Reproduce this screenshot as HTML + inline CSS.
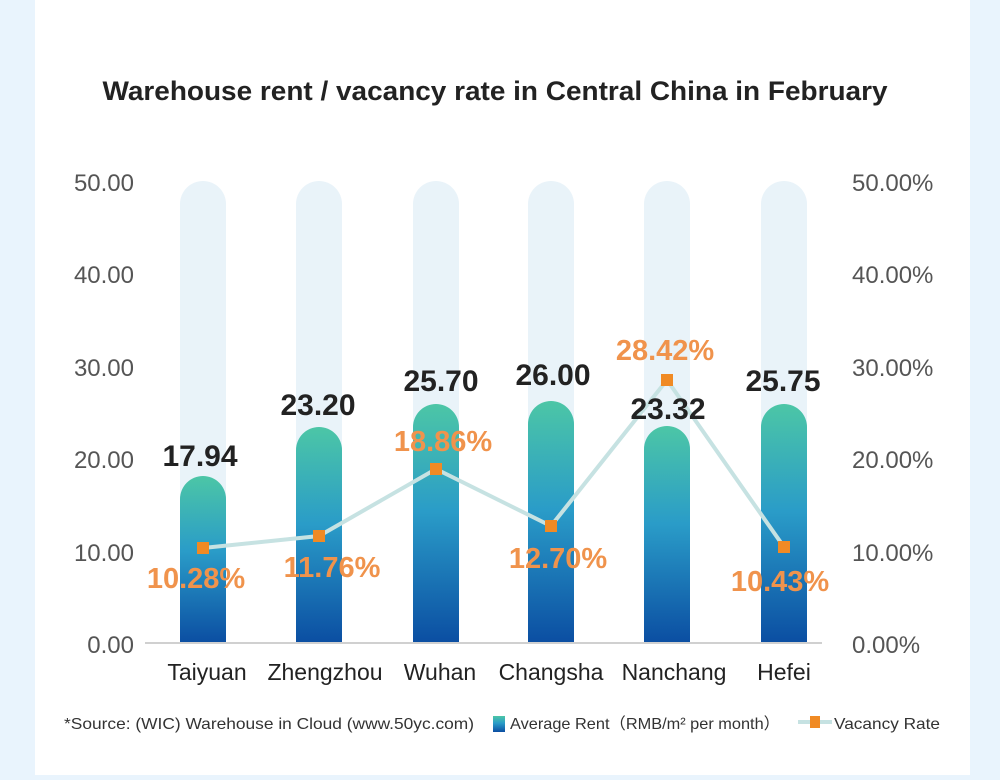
<!DOCTYPE html>
<html><head><meta charset="utf-8"><style>
body{margin:0;background:#e9f4fd;}
</style></head><body>
<svg width="1000" height="775" xmlns="http://www.w3.org/2000/svg" font-family="Liberation Sans, sans-serif">
<defs>
<linearGradient id="g" x1="0" y1="0" x2="0" y2="1">
<stop offset="0" stop-color="#4cc6a6"/><stop offset="0.45" stop-color="#2a9cc8"/><stop offset="1" stop-color="#0b4ea2"/>
</linearGradient>
</defs>
<rect x="0" y="0" width="1000" height="775" fill="#e9f4fd"/>
<rect x="35" y="0" width="935" height="775" fill="#fff"/>
<text x="495" y="100" text-anchor="middle" font-size="27" font-weight="bold" fill="#222" textLength="785" lengthAdjust="spacingAndGlyphs">Warehouse rent / vacancy rate in Central China in February</text>
<g font-size="24" fill="#555" text-anchor="end">
<text x="134" y="191">50.00</text><text x="134" y="283">40.00</text><text x="134" y="376">30.00</text><text x="134" y="468">20.00</text><text x="134" y="561">10.00</text><text x="134" y="653">0.00</text>
</g>
<g font-size="24" fill="#555">
<text x="852" y="191">50.00%</text><text x="852" y="283">40.00%</text><text x="852" y="376">30.00%</text><text x="852" y="468">20.00%</text><text x="852" y="561">10.00%</text><text x="852" y="653">0.00%</text>
</g>
<g fill="#e9f3f9">
<path d="M180 643V204a23 23 0 0 1 46 0V643z"/>
<path d="M296 643V204a23 23 0 0 1 46 0V643z"/>
<path d="M413 643V204a23 23 0 0 1 46 0V643z"/>
<path d="M528 643V204a23 23 0 0 1 46 0V643z"/>
<path d="M644 643V204a23 23 0 0 1 46 0V643z"/>
<path d="M761 643V204a23 23 0 0 1 46 0V643z"/>
</g>
<g fill="url(#g)">
<path d="M180 643V499a23 23 0 0 1 46 0V643z"/>
<path d="M296 643V450a23 23 0 0 1 46 0V643z"/>
<path d="M413 643V427a23 23 0 0 1 46 0V643z"/>
<path d="M528 643V424a23 23 0 0 1 46 0V643z"/>
<path d="M644 643V449a23 23 0 0 1 46 0V643z"/>
<path d="M761 643V427a23 23 0 0 1 46 0V643z"/>
</g>
<line x1="145" y1="643" x2="822" y2="643" stroke="#d0d0d0" stroke-width="2"/>
<polyline points="203,548 319,536 436,469 551,526 667,380 784,547" fill="none" stroke="#c6e2e2" stroke-width="4"/>
<g fill="#f08a24">
<rect x="197" y="542" width="12" height="12"/><rect x="313" y="530" width="12" height="12"/><rect x="430" y="463" width="12" height="12"/><rect x="545" y="520" width="12" height="12"/><rect x="661" y="374" width="12" height="12"/><rect x="778" y="541" width="12" height="12"/>
</g>
<g font-size="30" font-weight="bold" fill="#222" text-anchor="middle">
<text x="200" y="466">17.94</text><text x="318" y="415">23.20</text><text x="441" y="391">25.70</text><text x="553" y="385">26.00</text><text x="668" y="419">23.32</text><text x="783" y="391">25.75</text>
</g>
<g font-size="29" font-weight="bold" fill="#f0934c" text-anchor="middle">
<text x="196" y="588">10.28%</text><text x="332" y="577">11.76%</text><text x="443" y="451">18.86%</text><text x="558" y="568">12.70%</text><text x="665" y="360">28.42%</text><text x="780" y="591">10.43%</text>
</g>
<g font-size="23" fill="#222" text-anchor="middle">
<text x="207" y="680">Taiyuan</text><text x="325" y="680">Zhengzhou</text><text x="440" y="680">Wuhan</text><text x="551" y="680">Changsha</text><text x="674" y="680">Nanchang</text><text x="784" y="680">Hefei</text>
</g>
<g font-size="16" fill="#333">
<text x="64" y="729" textLength="410" lengthAdjust="spacingAndGlyphs">*Source: (WIC) Warehouse in Cloud  (www.50yc.com)</text>
<rect x="493" y="716" width="12" height="16" fill="url(#g)"/>
<text x="510" y="729" textLength="270" lengthAdjust="spacingAndGlyphs">Average Rent（RMB/m² per month）</text>
<line x1="798" y1="722" x2="832" y2="722" stroke="#c6e2e2" stroke-width="4"/>
<rect x="810" y="716" width="10" height="12" fill="#f08a24"/>
<text x="834" y="729" textLength="106" lengthAdjust="spacingAndGlyphs">Vacancy Rate</text>
</g>
</svg>
</body></html>
